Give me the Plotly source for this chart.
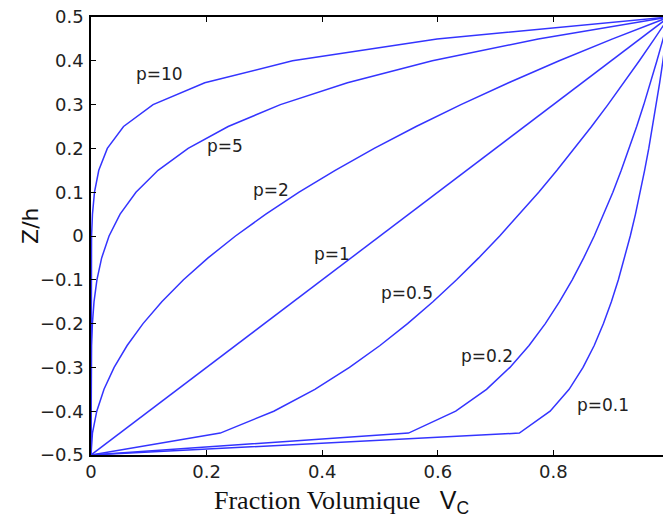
import plotly.graph_objects as go

# Through-thickness coordinate z/h
z_h = [-0.5, -0.45, -0.4, -0.35, -0.3, -0.25, -0.2, -0.15, -0.1, -0.05, 0.0,
       0.05, 0.1, 0.15, 0.2, 0.25, 0.3, 0.35, 0.4, 0.45, 0.5]

# Volume fraction V_C for each power-law index p
vc_p01 = [0, 0.7411, 0.7943, 0.8272, 0.8513, 0.8706, 0.8866, 0.9003, 0.9124, 0.9232, 0.9330,
          0.9420, 0.9502, 0.9578, 0.9650, 0.9716, 0.9779, 0.9839, 0.9895, 0.9949, 1.0]
vc_p02 = [0, 0.5493, 0.6310, 0.6843, 0.7248, 0.7579, 0.7860, 0.8106, 0.8326, 0.8524, 0.8706,
          0.8873, 0.9029, 0.9174, 0.9311, 0.9441, 0.9564, 0.9680, 0.9791, 0.9898, 1.0]
vc_p05 = [0, 0.2236, 0.3162, 0.3873, 0.4472, 0.5, 0.5477, 0.5916, 0.6325, 0.6708, 0.7071,
          0.7416, 0.7746, 0.8062, 0.8367, 0.8660, 0.8944, 0.9220, 0.9487, 0.9747, 1.0]
vc_p1 = [0, 0.05, 0.1, 0.15, 0.2, 0.25, 0.3, 0.35, 0.4, 0.45, 0.5,
         0.55, 0.6, 0.65, 0.7, 0.75, 0.8, 0.85, 0.9, 0.95, 1.0]
vc_p2 = [0, 0.0025, 0.01, 0.0225, 0.04, 0.0625, 0.09, 0.1225, 0.16, 0.2025, 0.25,
         0.3025, 0.36, 0.4225, 0.49, 0.5625, 0.64, 0.7225, 0.81, 0.9025, 1.0]
vc_p5 = [0, 0.0000003, 0.00001, 0.0000759, 0.00032, 0.000977, 0.00243, 0.00525, 0.01024, 0.01845, 0.03125,
         0.05033, 0.07776, 0.11603, 0.16807, 0.23730, 0.32768, 0.44371, 0.59049, 0.77378, 1.0]
vc_p10 = [0, 0.0, 0.0000000001, 0.0000000058, 0.000000102, 0.000000954, 0.0000059, 0.0000276, 0.000105, 0.000341, 0.000977,
          0.002533, 0.006047, 0.013463, 0.028248, 0.056314, 0.107374, 0.196874, 0.348678, 0.598737, 1.0]

series = [vc_p01, vc_p02, vc_p05, vc_p1, vc_p2, vc_p5, vc_p10]

# Curve labels and their anchor positions (V_C, z/h)
label_text = ["p=10", "p=5", "p=2", "p=1", "p=0.5", "p=0.2", "p=0.1"]
label_x = [0.119, 0.232, 0.312, 0.417, 0.547, 0.685, 0.886]
label_y = [0.37, 0.206, 0.105, -0.04, -0.13, -0.275, -0.385]

xtick_vals = [0, 0.2, 0.4, 0.6, 0.8]
xtick_text = ["0", "0.2", "0.4", "0.6", "0.8"]
ytick_vals = [-0.5, -0.4, -0.3, -0.2, -0.1, 0, 0.1, 0.2, 0.3, 0.4, 0.5]
ytick_text = ["\u22120.5", "\u22120.4", "\u22120.3", "\u22120.2", "\u22120.1", "0",
              "0.1", "0.2", "0.3", "0.4", "0.5"]

SANS = "DejaVu Sans"
SERIF = "Liberation Serif"

fig = go.Figure()
for s in series:
    fig.add_trace(go.Scatter(x=s, y=z_h, mode="lines",
                             line=dict(color="#3434ff", width=1.5),
                             showlegend=False, hoverinfo="skip"))

for t, x, y in zip(label_text, label_x, label_y):
    fig.add_annotation(x=x, y=y, text=t, showarrow=False,
                       font=dict(family=SANS, size=17, color="#222"))

# Axis titles
fig.add_annotation(xref="paper", yref="paper", x=0.2093, y=-0.108,
                   xanchor="left", yanchor="middle", showarrow=False,
                   text='Fraction Volumique&nbsp;&nbsp;&nbsp;'
                        '<span style="font-family:Liberation Sans;font-size:25px">V<sub>C</sub></span>',
                   font=dict(family=SERIF, size=26, color="#111"))
fig.add_annotation(xref="paper", yref="paper", x=-0.1038, y=0.523,
                   xanchor="center", yanchor="middle", showarrow=False, textangle=-90,
                   text="Z/h", font=dict(family=SANS, size=22, color="#111"))

axis_common = dict(showgrid=False, zeroline=False, showline=True, linecolor="black",
                   linewidth=1.5, mirror="ticks", ticks="inside", ticklen=5,
                   tickcolor="black", tickwidth=1, automargin=False,
                   ticklabeloverflow="allow",
                   tickfont=dict(family=SANS, size=18, color="#222"))

fig.update_layout(
    width=663, height=514,
    margin=dict(l=83, r=2, t=9, b=67),
    plot_bgcolor="white", paper_bgcolor="white",
    xaxis=dict(range=[0, 1], tickvals=xtick_vals, ticktext=xtick_text, **axis_common),
    yaxis=dict(range=[-0.5, 0.5], tickvals=ytick_vals, ticktext=ytick_text,
               ticklabelstandoff=2, **axis_common),
)

fig.write_html("out.html")
